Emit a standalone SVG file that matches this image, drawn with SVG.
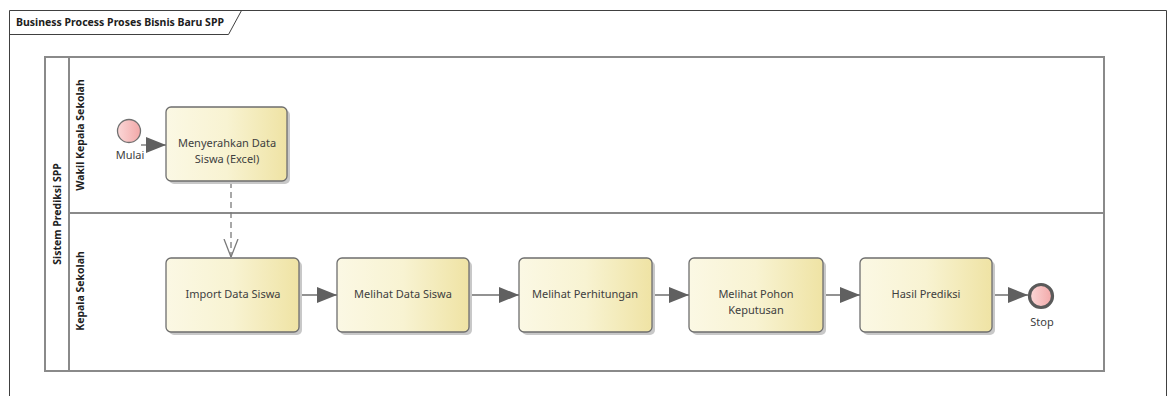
<svg xmlns="http://www.w3.org/2000/svg" width="1171" height="396" viewBox="0 0 1171 396">
  <style>
    .frame { fill: none; stroke: #404040; stroke-width: 1; }
    .pool { fill: #ffffff; stroke: #8a8a8a; stroke-width: 2; }
    .task rect.body { fill: url(#taskFill); stroke: #6e6e6e; stroke-width: 1.3; }
    .task rect.shadow { fill: #c8c8c8; }
    .lbl { font-family: "Noto Sans", "Open Sans", sans-serif; font-size: 11px; fill: #404040; text-anchor: middle; }
    .head { font-family: "Noto Sans", "Open Sans", sans-serif; font-size: 10.5px; font-weight: bold; fill: #202020; text-anchor: middle; }
    .title { font-family: "Noto Sans", "Open Sans", sans-serif; font-size: 10.5px; font-weight: bold; fill: #202020; }
    .flow { fill: none; stroke: #6e6e6e; stroke-width: 1.3; }
    .msg { fill: none; stroke: #7a7a7a; stroke-width: 1.3; stroke-dasharray: 6 4; }
  </style>
  <defs>
    <linearGradient id="taskFill" x1="0" y1="0" x2="1" y2="0">
      <stop offset="0" stop-color="#fbf8e4"/>
      <stop offset="0.5" stop-color="#f8f3d2"/>
      <stop offset="1" stop-color="#efe3a4"/>
    </linearGradient>
    <linearGradient id="eventFill" x1="0" y1="0" x2="1" y2="0">
      <stop offset="0" stop-color="#fbd7d7"/>
      <stop offset="1" stop-color="#f2a8a8"/>
    </linearGradient>
    <marker id="solidHead" viewBox="0 0 20 16" refX="20" refY="8" markerWidth="20" markerHeight="16" markerUnits="userSpaceOnUse" orient="auto">
      <path d="M0,0 L20,8 L0,16 Z" fill="#606060"/>
    </marker>
    <marker id="openHead" viewBox="0 0 16 18" refX="8" refY="18" markerWidth="16" markerHeight="18" markerUnits="userSpaceOnUse" orient="0">
      <path d="M1,0 L8,18 L15,0" fill="none" stroke="#7a7a7a" stroke-width="1.3"/>
    </marker>
  </defs>

  <rect width="1171" height="396" fill="#ffffff"/>

  <!-- diagram frame with name tab -->
  <g id="frame">
    <path class="frame" d="M9.5,400 L9.5,10.5 L1166.5,10.5 L1166.5,400"/>
    <path class="frame" d="M9.5,34.5 L228.5,34.5 L241.5,10.5"/>
    <text class="title" x="16" y="26">Business Process Proses Bisnis Baru SPP</text>
  </g>

  <!-- pool and lanes -->
  <g id="pool">
    <rect class="pool" x="45" y="57" width="1059" height="314"/>
    <line class="pool" x1="69" y1="57" x2="69" y2="371"/>
    <line class="pool" x1="69" y1="213" x2="1104" y2="213"/>
    <text class="head" transform="translate(61,214) rotate(-90)">Sistem Prediksi SPP</text>
  </g>
  <g id="lane-wakil">
    <text class="head" transform="translate(84,135) rotate(-90)">Wakil Kepala Sekolah</text>
  </g>
  <g id="lane-kepala">
    <text class="head" transform="translate(84,291) rotate(-90)">Kepala Sekolah</text>
  </g>

  <!-- connectors -->
  <g id="connectors">
    <line class="flow" x1="141" y1="145" x2="166" y2="145" marker-end="url(#solidHead)"/>
    <line class="msg" x1="231" y1="182" x2="231" y2="257" marker-end="url(#openHead)"/>
    <line class="flow" x1="299" y1="295" x2="337" y2="295" marker-end="url(#solidHead)"/>
    <line class="flow" x1="469" y1="295" x2="519" y2="295" marker-end="url(#solidHead)"/>
    <line class="flow" x1="652" y1="295" x2="689" y2="295" marker-end="url(#solidHead)"/>
    <line class="flow" x1="823" y1="295" x2="860" y2="295" marker-end="url(#solidHead)"/>
    <line class="flow" x1="992" y1="295" x2="1028" y2="295" marker-end="url(#solidHead)"/>
  </g>

  <!-- events -->
  <g id="start-mulai">
    <circle cx="129" cy="131" r="11.5" fill="url(#eventFill)" stroke="#707070" stroke-width="1.3"/>
    <text class="lbl" x="130" y="159">Mulai</text>
  </g>
  <g id="end-stop">
    <circle cx="1041" cy="296" r="11.5" fill="url(#eventFill)" stroke="#5a5a5a" stroke-width="3.2"/>
    <text class="lbl" x="1042" y="326">Stop</text>
  </g>

  <!-- activities -->
  <g id="task-menyerahkan" class="task">
    <rect class="shadow" x="169" y="110" width="121" height="74" rx="5"/>
    <rect class="body" x="166" y="107" width="121" height="74" rx="5"/>
    <text class="lbl" x="227" y="147">Menyerahkan Data</text>
    <text class="lbl" x="227" y="163">Siswa (Excel)</text>
  </g>
  <g id="task-import" class="task">
    <rect class="shadow" x="169" y="261" width="133" height="74" rx="5"/>
    <rect class="body" x="166" y="258" width="133" height="74" rx="5"/>
    <text class="lbl" x="233" y="298">Import Data Siswa</text>
  </g>
  <g id="task-melihat-data" class="task">
    <rect class="shadow" x="340" y="261" width="132" height="74" rx="5"/>
    <rect class="body" x="337" y="258" width="132" height="74" rx="5"/>
    <text class="lbl" x="403" y="298">Melihat Data Siswa</text>
  </g>
  <g id="task-perhitungan" class="task">
    <rect class="shadow" x="522" y="261" width="133" height="74" rx="5"/>
    <rect class="body" x="519" y="258" width="133" height="74" rx="5"/>
    <text class="lbl" x="585" y="298">Melihat Perhitungan</text>
  </g>
  <g id="task-pohon" class="task">
    <rect class="shadow" x="692" y="261" width="134" height="74" rx="5"/>
    <rect class="body" x="689" y="258" width="134" height="74" rx="5"/>
    <text class="lbl" x="756" y="298">Melihat Pohon</text>
    <text class="lbl" x="756" y="314">Keputusan</text>
  </g>
  <g id="task-hasil" class="task">
    <rect class="shadow" x="863" y="261" width="132" height="74" rx="5"/>
    <rect class="body" x="860" y="258" width="132" height="74" rx="5"/>
    <text class="lbl" x="926" y="298">Hasil Prediksi</text>
  </g>
</svg>
